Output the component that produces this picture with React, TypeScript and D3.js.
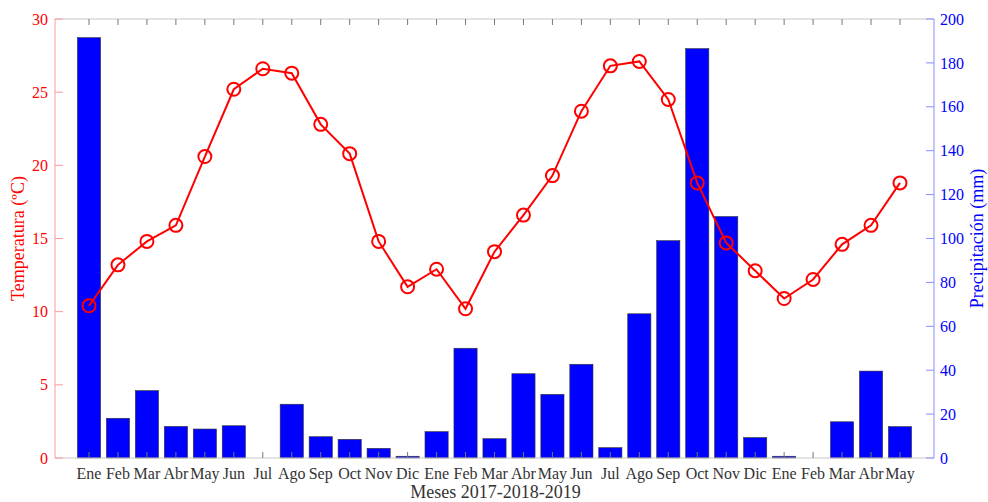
import * as d3 from 'd3';

const WIDTH = 988;
const HEIGHT = 502;
const MARGIN = { top: 19, right: 54, bottom: 44, left: 55 };

const months = [
  'Ene', 'Feb', 'Mar', 'Abr', 'May', 'Jun', 'Jul', 'Ago', 'Sep', 'Oct', 'Nov', 'Dic',
  'Ene', 'Feb', 'Mar', 'Abr', 'May', 'Jun', 'Jul', 'Ago', 'Sep', 'Oct', 'Nov', 'Dic',
  'Ene', 'Feb', 'Mar', 'Abr', 'May',
];

const temperatura = [
  10.4, 13.2, 14.8, 15.9, 20.6, 25.2, 26.6, 26.3, 22.8, 20.8, 14.8, 11.7,
  12.9, 10.2, 14.1, 16.6, 19.3, 23.7, 26.8, 27.1, 24.5, 18.8, 14.7, 12.8,
  10.9, 12.2, 14.6, 15.9, 18.8,
];

const precipitacion = [
  191.5, 18.1, 30.7, 14.4, 13.2, 14.7, 0, 24.5, 9.7, 8.5, 4.4, 0.8,
  12.0, 50.0, 8.8, 38.4, 29.0, 42.7, 4.7, 65.7, 99.0, 186.5, 110.0, 9.3,
  0.8, 0, 16.5, 39.6, 14.3,
];

const tempTicks = [0, 5, 10, 15, 20, 25, 30];
const precTicks = [0, 20, 40, 60, 80, 100, 120, 140, 160, 180, 200];

const FONT = '"Liberation Serif", "Times New Roman", serif';
const RED = '#ff0000';
const BLUE = '#0000ff';

export default function App() {
  const innerW = WIDTH - MARGIN.left - MARGIN.right;
  const innerH = HEIGHT - MARGIN.top - MARGIN.bottom;

  // posiciones de los meses 0..28, con margen de ~1.17 pasos a cada lado
  const x = d3.scaleLinear().domain([-1.174, months.length - 1 + 1.174]).range([0, innerW]);
  const step = x(1) - x(0);
  const barW = step * 0.8;

  const yT = d3.scaleLinear().domain([0, 30]).range([innerH, 0]);
  const yP = d3.scaleLinear().domain([0, 200]).range([innerH, 0]);

  const line = d3
    .line<number>()
    .x((_, i) => x(i))
    .y((d) => yT(d));

  return (
    <svg width={WIDTH} height={HEIGHT} style={{ position: 'absolute', left: 0, top: 0 }}>
      <rect width={WIDTH} height={HEIGHT} fill="#fff" />
      <g transform={`translate(${MARGIN.left},${MARGIN.top})`} fontFamily={FONT}>
        {/* barras de precipitación */}
        {precipitacion.map((p, i) =>
          p > 0 ? (
            <rect
              key={`b${i}`}
              x={x(i) - barW / 2}
              y={yP(p)}
              width={barW}
              height={innerH - yP(p)}
              fill={BLUE}
              stroke="#333"
              strokeWidth={0.6}
            />
          ) : null
        )}

        {/* marco superior e inferior */}
        <line x1={0} x2={innerW} y1={0} y2={0} stroke="#c8c8c8" strokeWidth={1} />
        <line x1={0} x2={innerW} y1={innerH} y2={innerH} stroke="#c8c8c8" strokeWidth={1} />

        {/* marcas de meses */}
        {months.map((m, i) => (
          <g key={`t${i}`}>
            <line x1={x(i)} x2={x(i)} y1={0} y2={6} stroke="#777" strokeWidth={1} />
            <line x1={x(i)} x2={x(i)} y1={innerH} y2={innerH - 6} stroke="#777" strokeWidth={1} />
            <text x={x(i)} y={innerH + 21} textAnchor="middle" fontSize={16} fill="#333">
              {m}
            </text>
          </g>
        ))}

        {/* eje izquierdo */}
        <line x1={0} x2={0} y1={0} y2={innerH} stroke="#ff9a9a" strokeWidth={1} />
        {tempTicks.map((t) => (
          <g key={`l${t}`}>
            <line x1={0} x2={8} y1={yT(t)} y2={yT(t)} stroke="#ff9a9a" strokeWidth={1} />
            <text x={-7} y={yT(t)} dy="0.35em" textAnchor="end" fontSize={16} fill={RED}>
              {t}
            </text>
          </g>
        ))}

        {/* eje derecho */}
        <line x1={innerW} x2={innerW} y1={0} y2={innerH} stroke="#8c8cff" strokeWidth={1} />
        {precTicks.map((t) => (
          <g key={`r${t}`}>
            <line x1={innerW} x2={innerW - 8} y1={yP(t)} y2={yP(t)} stroke="#8c8cff" strokeWidth={1} />
            <text x={innerW + 6} y={yP(t)} dy="0.35em" textAnchor="start" fontSize={16} fill={BLUE}>
              {t}
            </text>
          </g>
        ))}

        {/* temperatura */}
        <path d={line(temperatura) ?? ''} fill="none" stroke={RED} strokeWidth={2} />
        {temperatura.map((t, i) => (
          <circle key={`c${i}`} cx={x(i)} cy={yT(t)} r={6.5} fill="none" stroke={RED} strokeWidth={2} />
        ))}

        {/* títulos */}
        <text
          transform={`translate(${-31},${innerH / 2}) rotate(-90)`}
          textAnchor="middle"
          fontSize={18}
          fill={RED}
        >
          Temperatura (ºC)
        </text>
        <text
          transform={`translate(${innerW + 49},${innerH / 2}) rotate(-90)`}
          textAnchor="middle"
          fontSize={18}
          fill={BLUE}
        >
          Precipitación (mm)
        </text>
        <text x={innerW / 2 + 1} y={innerH + 40} textAnchor="middle" fontSize={18} fill="#333">
          Meses 2017-2018-2019
        </text>
      </g>
    </svg>
  );
}
